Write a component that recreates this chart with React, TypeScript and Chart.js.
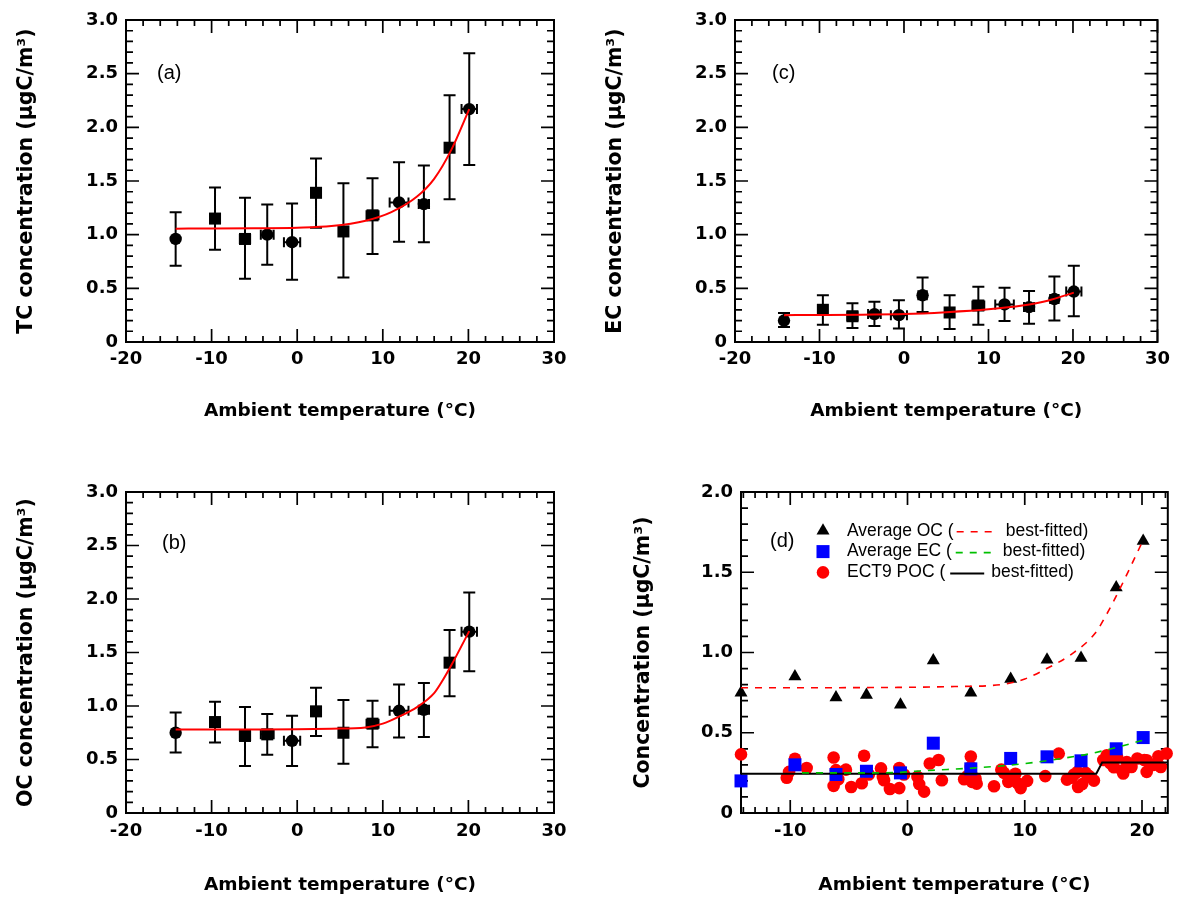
import React, { useEffect, useRef } from "react";
import { Chart, registerables } from "chart.js";
Chart.register(...registerables);

// ---------------- data ----------------
const temperature = [-14.2, -9.6, -6.1, -3.5, -0.6, 2.2, 5.4, 8.8, 11.9, 14.8, 17.8, 20.1];
const temperatureErr = [0, 0.5, 0.6, 0.75, 0.95, 0.5, 0.5, 0.7, 1.1, 0.6, 0.5, 0.9];

const tcMean = [0.96, 1.15, 0.96, 1.0, 0.93, 1.39, 1.03, 1.18, 1.3, 1.285, 1.81, 2.17];
const tcHigh = [1.21, 1.44, 1.345, 1.28, 1.29, 1.71, 1.48, 1.525, 1.675, 1.645, 2.3, 2.69];
const tcLow = [0.71, 0.86, 0.59, 0.72, 0.58, 1.065, 0.6, 0.82, 0.935, 0.93, 1.33, 1.65];
const tcMarkers = ["circle", "rect", "rect", "circle", "circle", "rect", "rect", "rect", "circle", "circle", "rect", "circle"];
const tcFitT = [-14.2, -10, -5, 0, 4, 8, 11, 14, 16, 18, 20.1];
const tcFit = [1.056, 1.057, 1.06, 1.065, 1.08, 1.13, 1.21, 1.355, 1.52, 1.79, 2.17];

const ocMean = [0.75, 0.85, 0.72, 0.735, 0.675, 0.95, 0.75, 0.835, 0.955, 0.965, 1.405, 1.695];
const ocHigh = [0.94, 1.04, 0.99, 0.925, 0.91, 1.17, 1.055, 1.05, 1.2, 1.215, 1.71, 2.06];
const ocLow = [0.565, 0.66, 0.44, 0.545, 0.44, 0.72, 0.46, 0.615, 0.705, 0.71, 1.09, 1.325];
const ocMarkers = ["circle", "rect", "rect", "rect", "circle", "rect", "rect", "rect", "circle", "circle", "rect", "circle"];
const ocFitT = [-14.2, -10, -5, 0, 4, 8, 10, 12, 14, 16, 17, 18, 20.1];
const ocFit = [0.78, 0.78, 0.781, 0.783, 0.788, 0.8, 0.835, 0.905, 0.99, 1.12, 1.24, 1.38, 1.7];

const ecMean = [0.2, 0.3, 0.24, 0.26, 0.25, 0.435, 0.275, 0.34, 0.35, 0.325, 0.4, 0.47];
const ecHigh = [0.27, 0.435, 0.36, 0.375, 0.39, 0.6, 0.435, 0.515, 0.505, 0.475, 0.61, 0.71];
const ecLow = [0.14, 0.16, 0.13, 0.15, 0.125, 0.28, 0.12, 0.16, 0.195, 0.17, 0.2, 0.24];
const ecMarkers = ["circle", "rect", "rect", "circle", "circle", "circle", "rect", "rect", "circle", "circle", "circle", "circle"];
const ecFitT = [-14.2, -10, -5, 0, 5, 10, 14, 17, 20.1];
const ecFit = [0.25, 0.252, 0.255, 0.26, 0.278, 0.305, 0.34, 0.385, 0.46];

// panel (d)
const ecFitDT = [-9, -5, -1, 1, 3.4, 5.8, 8.4, 10.8, 13.2, 15.6, 18.2, 20.4];
const ecFitD = [0.25, 0.25, 0.252, 0.262, 0.271, 0.281, 0.296, 0.315, 0.34, 0.37, 0.416, 0.46];
const pocFitT = [-14.2, 16.1, 16.6, 22.2];
const pocFit = [0.245, 0.245, 0.315, 0.315];
const pocT = [-14.2, -10.3, -10.1, -9.6, -8.6, -6.3, -6.3, -6.1, -5.9, -5.25, -4.8, -3.9, -3.7, -3.3, -2.26, -2.1, -2.0, -1.5, -0.7, -0.7, -0.3, 0.85, 1.0, 1.42, 1.9, 2.65, 2.93, 4.83, 5.1, 5.4, 5.4, 5.5, 5.8, 5.9, 7.38, 8.0, 8.23, 8.6, 9.0, 9.2, 9.4, 9.65, 10.2, 11.75, 12.9, 13.6, 14.0, 14.2, 14.5, 14.55, 14.9, 15.2, 15.5, 15.9, 16.7, 17.0, 17.3, 17.6, 17.9, 18.3, 18.4, 18.7, 19.1, 19.6, 20.2, 20.4, 20.4, 21.0, 21.4, 21.6, 22.1];
const pocValue = [0.365, 0.22, 0.256, 0.338, 0.28, 0.346, 0.169, 0.267, 0.21, 0.27, 0.162, 0.185, 0.357, 0.24, 0.278, 0.225, 0.204, 0.15, 0.28, 0.155, 0.24, 0.225, 0.18, 0.133, 0.308, 0.33, 0.204, 0.21, 0.23, 0.352, 0.287, 0.194, 0.215, 0.183, 0.167, 0.27, 0.25, 0.194, 0.21, 0.245, 0.185, 0.155, 0.2, 0.23, 0.37, 0.208, 0.22, 0.24, 0.256, 0.162, 0.18, 0.25, 0.23, 0.202, 0.33, 0.36, 0.31, 0.285, 0.345, 0.265, 0.246, 0.318, 0.287, 0.34, 0.33, 0.256, 0.329, 0.3, 0.354, 0.287, 0.371];

// ticks
const xTicksTemp = [-20, -10, 0, 10, 20, 30];
const xTickLabelsTemp = ["-20", "-10", "0", "10", "20", "30"];
const xTicksD = [-10, 0, 10, 20];
const xTickLabelsD = ["-10", "0", "10", "20"];
const yTicks3 = [0, 0.5, 1, 1.5, 2, 2.5, 3];
const yTickLabels3 = ["0", "0.5", "1.0", "1.5", "2.0", "2.5", "3.0"];
const yTicks2 = [0, 0.5, 1, 1.5, 2];
const yTickLabels2 = ["0", "0.5", "1.0", "1.5", "2.0"];

// ---------------- styling ----------------
const BOLD = "'DejaVu Sans', sans-serif";
const REG = "'Liberation Sans', Arial, sans-serif";
const tickFont = { family: BOLD, size: 18, weight: "bold" as const };
const xTitleFont = { family: BOLD, size: 18.5, weight: "bold" as const };
const yTitleFont = { family: BOLD, size: 20.5, weight: "bold" as const };

const pts = (xs: number[], ys: number[]) => xs.map((x, i) => ({ x, y: ys[i] }));
const markerRadius = (m: string) => (m === "rect" ? 8.5 : 6.2);

type Spec = {
  padding: any; yWidth: number; xHeight: number;
  xMin: number; xMax: number; xTicks: number[]; xLabels: string[]; xMinor: number; xMajor: number;
  yMin: number; yMax: number; yTicks: number[]; yLabels: string[]; yMinor: number; yMajor: number;
  xTickPad: number; xTitlePad: number; yTitlePad: number; yTitle: string;
  label: string; labelX: number; labelY: number;
  datasets: any[];
  errors?: { x: number[]; y: number[]; lo: number[]; hi: number[]; xe: number[] };
  legend?: boolean;
};

function buildChart(canvas: HTMLCanvasElement, p: Spec) {
  const plugins: any[] = [];
  plugins.push({
    id: "frameTicks",
    beforeDatasetsDraw(chart: any) {
      const { ctx, chartArea: a, scales } = chart;
      const xs = scales.x, ys = scales.y;
      ctx.save();
      ctx.strokeStyle = "#000";
      ctx.lineWidth = 2;
      ctx.strokeRect(a.left, a.top, a.right - a.left, a.bottom - a.top);
      ctx.lineWidth = 1.7;
      ctx.beginPath();
      const eps = 1e-6;
      for (let k = Math.ceil(p.xMin / p.xMinor - eps); k * p.xMinor <= p.xMax + eps; k++) {
        const v = k * p.xMinor;
        const r = v / p.xMajor;
        const major = Math.abs(r - Math.round(r)) < 1e-6;
        const len = major ? 13 : 6;
        const px = xs.getPixelForValue(v);
        ctx.moveTo(px, a.bottom); ctx.lineTo(px, a.bottom - len);
        ctx.moveTo(px, a.top); ctx.lineTo(px, a.top + len);
      }
      for (let k = Math.ceil(p.yMin / p.yMinor - eps); k * p.yMinor <= p.yMax + eps; k++) {
        const v = k * p.yMinor;
        const r = v / p.yMajor;
        const major = Math.abs(r - Math.round(r)) < 1e-6;
        const len = major ? 13 : 7;
        const py = ys.getPixelForValue(v);
        ctx.moveTo(a.left, py); ctx.lineTo(a.left + len, py);
        ctx.moveTo(a.right, py); ctx.lineTo(a.right - len, py);
      }
      ctx.stroke();
      ctx.restore();
    },
  });
  if (p.errors) {
    const e = p.errors;
    plugins.push({
      id: "errorBars",
      beforeDatasetsDraw(chart: any) {
        const { ctx, scales } = chart;
        const xs = scales.x, ys = scales.y;
        ctx.save();
        ctx.strokeStyle = "#000";
        ctx.lineWidth = 2;
        ctx.beginPath();
        for (let i = 0; i < e.x.length; i++) {
          const px = xs.getPixelForValue(e.x[i]);
          const pl = ys.getPixelForValue(e.lo[i]);
          const ph = ys.getPixelForValue(e.hi[i]);
          ctx.moveTo(px, pl); ctx.lineTo(px, ph);
          ctx.moveTo(px - 6, pl); ctx.lineTo(px + 6, pl);
          ctx.moveTo(px - 6, ph); ctx.lineTo(px + 6, ph);
          if (e.xe[i] > 0) {
            const py = ys.getPixelForValue(e.y[i]);
            const xl = xs.getPixelForValue(e.x[i] - e.xe[i]);
            const xr = xs.getPixelForValue(e.x[i] + e.xe[i]);
            ctx.moveTo(xl, py); ctx.lineTo(xr, py);
            ctx.moveTo(xl, py - 5); ctx.lineTo(xl, py + 5);
            ctx.moveTo(xr, py - 5); ctx.lineTo(xr, py + 5);
          }
        }
        ctx.stroke();
        ctx.restore();
      },
    });
  }
  plugins.push({
    id: "panelLabel",
    afterDraw(chart: any) {
      const { ctx } = chart;
      ctx.save();
      ctx.fillStyle = "#000";
      ctx.font = `20px ${REG}`;
      ctx.textAlign = "left";
      ctx.textBaseline = "middle";
      ctx.fillText(p.label, p.labelX, p.labelY);
      if (p.legend) {
        ctx.font = `17.5px ${REG}`;
        const rows = [
          { pre: "Average OC (", kind: "tri", color: "#ff0000", dash: [7, 7], len: 42, gap: 3 },
          { pre: "Average EC (", kind: "sq", color: "#00c000", dash: [7, 7], len: 40, gap: 4 },
          { pre: "ECT9 POC (", kind: "dot", color: "#000000", dash: [], len: 34, gap: 5 },
        ];
        const mx = 235, tx = 259;
        const ys0 = [80.7, 101.6, 122.4];
        rows.forEach((r, i) => {
          const y = ys0[i];
          ctx.setLineDash([]);
          if (r.kind === "tri") {
            ctx.fillStyle = "#000";
            ctx.beginPath();
            ctx.moveTo(mx, y - 7.5); ctx.lineTo(mx + 6.5, y + 3.8); ctx.lineTo(mx - 6.5, y + 3.8);
            ctx.closePath(); ctx.fill();
          } else if (r.kind === "sq") {
            ctx.fillStyle = "#0000ff";
            ctx.fillRect(mx - 6.5, y - 6.5, 13, 13);
          } else {
            ctx.fillStyle = "#ff0000";
            ctx.beginPath(); ctx.arc(mx, y, 6.3, 0, Math.PI * 2); ctx.fill();
          }
          ctx.fillStyle = "#000";
          ctx.fillText(r.pre, tx, y);
          const w = ctx.measureText(r.pre).width;
          const lx = tx + w + r.gap;
          ctx.strokeStyle = r.color;
          ctx.lineWidth = r.kind === "dot" ? 2 : 1.6;
          ctx.setLineDash(r.dash);
          ctx.beginPath(); ctx.moveTo(lx, y + 1); ctx.lineTo(lx + r.len, y + 1); ctx.stroke();
          ctx.setLineDash([]);
          ctx.fillText("best-fitted)", lx + r.len + 7, y);
        });
      }
      ctx.restore();
    },
  });

  return new Chart(canvas, {
    type: "scatter",
    data: { datasets: p.datasets },
    plugins,
    options: {
      responsive: false,
      animation: false,
      events: [],
      layout: { padding: p.padding },
      plugins: { legend: { display: false }, tooltip: { enabled: false } },
      scales: {
        x: {
          type: "linear",
          min: p.xMin,
          max: p.xMax,
          afterBuildTicks: (s: any) => { s.ticks = p.xTicks.map((v) => ({ value: v })); },
          afterFit: (s: any) => { s.height = p.xHeight; },
          grid: { display: false, drawTicks: false },
          border: { display: false },
          ticks: {
            color: "#000", font: tickFont, padding: p.xTickPad, maxRotation: 0, autoSkip: false,
            callback: (_v: any, i: number) => p.xLabels[i],
          },
          title: {
            display: true, text: "Ambient temperature (°C)", color: "#000", font: xTitleFont,
            padding: { top: 0, bottom: p.xTitlePad },
          },
        },
        y: {
          type: "linear",
          min: p.yMin,
          max: p.yMax,
          afterBuildTicks: (s: any) => { s.ticks = p.yTicks.map((v) => ({ value: v })); },
          afterFit: (s: any) => { s.width = p.yWidth; },
          grid: { display: false, drawTicks: false },
          border: { display: false },
          ticks: {
            color: "#000", font: tickFont, padding: 8, autoSkip: false,
            callback: (_v: any, i: number) => p.yLabels[i],
          },
          title: {
            display: true, text: p.yTitle, color: "#000", font: yTitleFont,
            padding: { top: p.yTitlePad, bottom: 0 },
          },
        },
      },
    } as any,
  });
}

function meanPanel(mean: number[], markers: string[], fitT: number[], fit: number[]) {
  return [
    {
      data: pts(fitT, fit), showLine: true, pointRadius: 0, borderColor: "#ff0000", borderWidth: 2,
      cubicInterpolationMode: "monotone", order: 0, clip: false,
    },
    {
      data: pts(temperature, mean), pointStyle: markers, pointRadius: markers.map(markerRadius),
      backgroundColor: "#000", borderColor: "#000", borderWidth: 0, order: 1, clip: false,
    },
  ];
}

const specA: Spec = {
  padding: { left: 0, top: 20, right: 34, bottom: 0 }, yWidth: 126, xHeight: 108,
  xMin: -20, xMax: 30, xTicks: xTicksTemp, xLabels: xTickLabelsTemp, xMinor: 2, xMajor: 10,
  yMin: 0, yMax: 3, yTicks: yTicks3, yLabels: yTickLabels3, yMinor: 0.1, yMajor: 0.5,
  xTickPad: 7, xTitlePad: 28, yTitlePad: 14.5, yTitle: "TC concentration (µgC/m³)",
  label: "(a)", labelX: 157, labelY: 73,
  datasets: meanPanel(tcMean, tcMarkers, tcFitT, tcFit),
  errors: { x: temperature, y: tcMean, lo: tcLow, hi: tcHigh, xe: temperatureErr },
};
const specC: Spec = {
  padding: { left: 0, top: 20, right: 14, bottom: 0 }, yWidth: 147, xHeight: 108,
  xMin: -20, xMax: 30, xTicks: xTicksTemp, xLabels: xTickLabelsTemp, xMinor: 2, xMajor: 10,
  yMin: 0, yMax: 3, yTicks: yTicks3, yLabels: yTickLabels3, yMinor: 0.1, yMajor: 0.5,
  xTickPad: 7, xTitlePad: 28, yTitlePad: 15.5, yTitle: "EC concentration (µgC/m³)",
  label: "(c)", labelX: 184, labelY: 73,
  datasets: meanPanel(ecMean, ecMarkers, ecFitT, ecFit),
  errors: { x: temperature, y: ecMean, lo: ecLow, hi: ecHigh, xe: temperatureErr },
};
const specB: Spec = {
  padding: { left: 0, top: 42, right: 34, bottom: 0 }, yWidth: 126, xHeight: 86,
  xMin: -20, xMax: 30, xTicks: xTicksTemp, xLabels: xTickLabelsTemp, xMinor: 2, xMajor: 10,
  yMin: 0, yMax: 3, yTicks: yTicks3, yLabels: yTickLabels3, yMinor: 0.1, yMajor: 0.5,
  xTickPad: 8, xTitlePad: 3, yTitlePad: 14.5, yTitle: "OC concentration (µgC/m³)",
  label: "(b)", labelX: 162, labelY: 93.5,
  datasets: meanPanel(ocMean, ocMarkers, ocFitT, ocFit),
  errors: { x: temperature, y: ocMean, lo: ocLow, hi: ocHigh, xe: temperatureErr },
};
const specD: Spec = {
  padding: { left: 0, top: 42, right: 8, bottom: 0 }, yWidth: 153, xHeight: 86,
  xMin: -14.2, xMax: 22.2, xTicks: xTicksD, xLabels: xTickLabelsD, xMinor: 1, xMajor: 10,
  yMin: 0, yMax: 2, yTicks: yTicks2, yLabels: yTickLabels2, yMinor: 0.1, yMajor: 0.5,
  xTickPad: 8, xTitlePad: 3, yTitlePad: 43.5, yTitle: "Concentration (µgC/m³)",
  label: "(d)", labelX: 182, labelY: 91.7,
  legend: true,
  datasets: [
    {
      data: pts(ocFitT, ocFit), showLine: true, pointRadius: 0, borderColor: "#ff0000", borderWidth: 1.6,
      borderDash: [7, 7], cubicInterpolationMode: "monotone", order: 0, clip: false,
    },
    {
      data: pts(ecFitDT, ecFitD), showLine: true, pointRadius: 0, borderColor: "#00c000", borderWidth: 1.6,
      borderDash: [7, 7], cubicInterpolationMode: "monotone", order: 1, clip: false,
    },
    {
      data: pts(pocFitT, pocFit), showLine: true, pointRadius: 0, borderColor: "#000", borderWidth: 2,
      tension: 0, order: 2, clip: false,
    },
    {
      data: pts(temperature, ocMean), pointStyle: "triangle", pointRadius: 7.5,
      backgroundColor: "#000", borderWidth: 0, order: 3, clip: false,
    },
    {
      data: pts(temperature, ecMean), pointStyle: "rect", pointRadius: 9.2,
      backgroundColor: "#0000ff", borderWidth: 0, order: 4, clip: false,
    },
    {
      data: pts(pocT, pocValue), pointStyle: "circle", pointRadius: 6.3,
      backgroundColor: "#ff0000", borderWidth: 0, order: 5, clip: false,
    },
  ],
};

export default function App() {
  const refA = useRef<HTMLCanvasElement>(null);
  const refB = useRef<HTMLCanvasElement>(null);
  const refC = useRef<HTMLCanvasElement>(null);
  const refD = useRef<HTMLCanvasElement>(null);

  useEffect(() => {
    const charts = [
      buildChart(refA.current!, specA),
      buildChart(refC.current!, specC),
      buildChart(refB.current!, specB),
      buildChart(refD.current!, specD),
    ];
    return () => charts.forEach((c) => c.destroy());
  }, []);

  const cs = (left: number, top: number, w: number, h: number): React.CSSProperties => ({
    position: "absolute", left, top, width: w, height: h, display: "block",
  });

  return (
    <div style={{ position: "absolute", left: 0, top: 0, width: 1177, height: 899, background: "#fff" }}>
      <canvas ref={refA} width={588} height={450} style={cs(0, 0, 588, 450)} />
      <canvas ref={refC} width={589} height={450} style={cs(588, 0, 589, 450)} />
      <canvas ref={refB} width={588} height={449} style={cs(0, 450, 588, 449)} />
      <canvas ref={refD} width={589} height={449} style={cs(588, 450, 589, 449)} />
    </div>
  );
}
